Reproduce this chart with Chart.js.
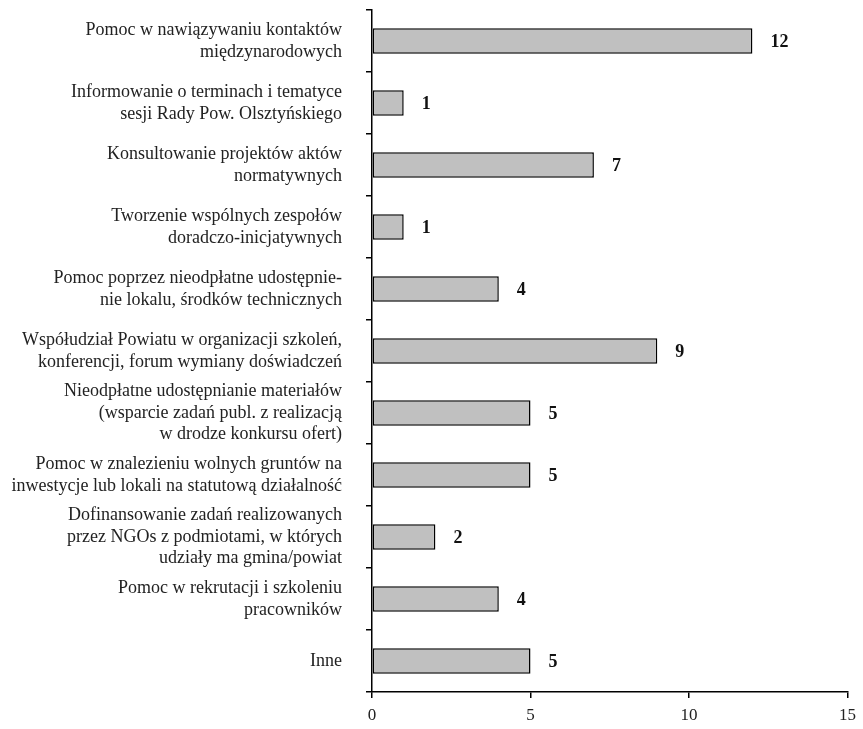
<!DOCTYPE html>
<html>
<head>
<meta charset="utf-8">
<script src="https://cdn.jsdelivr.net/npm/chart.js@4/dist/chart.umd.min.js"></script>
<style>
  html, body { margin: 0; padding: 0; background: #fff; }
  #wrap { width: 863px; height: 729px; position: relative; }
</style>
</head>
<body>
<div id="wrap"><canvas id="chart"></canvas></div>
<script>
'use strict';

const categories = [
    ['Pomoc w nawiązywaniu kontaktów', 'międzynarodowych'],
    ['Informowanie o terminach i tematyce', 'sesji Rady Pow. Olsztyńskiego'],
    ['Konsultowanie projektów aktów', 'normatywnych'],
    ['Tworzenie wspólnych zespołów', 'doradczo-inicjatywnych'],
    ['Pomoc poprzez nieodpłatne udostępnie-', 'nie lokalu, środków technicznych'],
    ['Współudział Powiatu w organizacji szkoleń,', 'konferencji, forum wymiany doświadczeń'],
    ['Nieodpłatne udostępnianie materiałów', '(wsparcie zadań publ. z realizacją', 'w drodze konkursu ofert)'],
    ['Pomoc w znalezieniu wolnych gruntów na', 'inwestycje lub lokali na statutową działalność'],
    ['Dofinansowanie zadań realizowanych', 'przez NGOs z podmiotami, w których', 'udziały ma gmina/powiat'],
    ['Pomoc w rekrutacji i szkoleniu', 'pracowników'],
    ['Inne'],
];
const values = [12, 1, 7, 1, 4, 9, 5, 5, 2, 4, 5];
const xTicks = [0, 5, 10, 15];

const FONT = '"Liberation Serif", "DejaVu Serif", serif';

// ── Value labels next to the bars ────────────────────────────────────────────

const valueLabels = {
    id: 'valueLabels',
    afterDatasetsDraw(chart) {
        const ctx = chart.ctx;
        const meta = chart.getDatasetMeta(0);
        ctx.save();
        ctx.font = 'bold 18px ' + FONT;
        ctx.fillStyle = '#111';
        ctx.textAlign = 'left';
        ctx.textBaseline = 'middle';
        meta.data.forEach((bar, i) => {
            ctx.fillText(String(values[i]), bar.x + 18, bar.y + 1);
        });
        ctx.restore();
    },
};

// ── Chart ────────────────────────────────────────────────────────────────────

const ctx = document.getElementById('chart').getContext('2d');
new Chart(ctx, {
    type: 'bar',
    data: {
        labels: categories,
        datasets: [{
            data: values,
            backgroundColor: '#c0c0c0',
            borderColor: '#000',
            borderWidth: 1.5,
            borderSkipped: false,
            barPercentage: 0.41,
            categoryPercentage: 1,
        }],
    },
    options: {
        indexAxis: 'y',
        responsive: true,
        maintainAspectRatio: false,
        animation: false,
        layout: { padding: { top: 10, right: 11, left: 0, bottom: 0 } },
        plugins: {
            legend: { display: false },
            tooltip: { enabled: false },
        },
        scales: {
            x: {
                min: 0,
                max: 15,
                afterBuildTicks(scale) {
                    scale.ticks = xTicks.map(v => ({ value: v }));
                },
                afterFit(scale) { scale.height = 37; },
                border: { display: true, color: '#000', width: 1.5 },
                grid: { drawOnChartArea: false, color: '#000', tickLength: 6, lineWidth: 1.5 },
                ticks: { color: '#222', font: { family: FONT, size: 17 }, padding: 7, maxRotation: 0 },
            },
            y: {
                afterFit(scale) {
                    scale.width = 372;
                    scale.paddingTop = 0;
                    scale.paddingBottom = 0;
                },
                border: { display: true, color: '#000', width: 1.5 },
                grid: { drawOnChartArea: false, color: '#000', tickLength: 6, lineWidth: 1.5, offset: true },
                ticks: {
                    color: '#222',
                    font: { family: FONT, size: 18, lineHeight: 1.2 },
                    padding: 24,
                    autoSkip: false,
                },
            },
        },
    },
    plugins: [valueLabels],
});
</script>
</body>
</html>
